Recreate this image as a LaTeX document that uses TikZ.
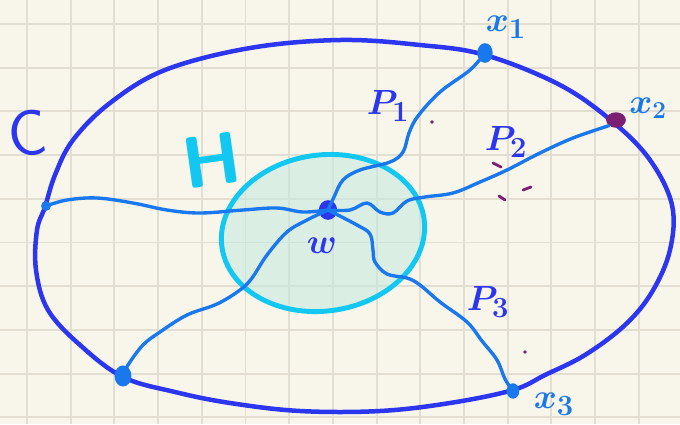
\documentclass[tikz,border=0pt]{standalone}
\usepackage{bm}
\usepackage{tikz}
\usetikzlibrary{shapes.geometric}
\definecolor{paper}{HTML}{F8F6EA}
\definecolor{gridline}{HTML}{E2DFD2}
\definecolor{cblue}{HTML}{2B36EE}
\definecolor{pblue}{HTML}{1A78EE}
\definecolor{hcyan}{HTML}{12C8F2}
\definecolor{hfill}{HTML}{C4E9DF}
\definecolor{markc}{HTML}{7A1F72}

\begin{document}
\begin{tikzpicture}[x=0.025cm, y=-0.025cm,
  curveC/.style={cblue, line width=3.2pt, line cap=round},
  pathP/.style={pblue, line width=2.4pt, line cap=round, line join=round},
  dot/.style={draw=none, fill=pblue, ellipse, inner sep=0pt},
  lab/.style={inner sep=0pt}]

% 背景
\useasboundingbox (0,0) rectangle (680,424);
\fill[paper] (0,0) rectangle (680,424);
\foreach \i in {0,...,14} \draw[gridline, line width=1.3pt] (27+43.7*\i,0) -- (27+43.7*\i,424);
\foreach \j in {0,...,9} \draw[gridline, line width=1.3pt] (0,24+43.7*\j) -- (680,24+43.7*\j);

% 集合 H
\node[draw=hcyan, fill=hfill, fill opacity=0.55, draw opacity=1, line width=3.5pt,
  ellipse, minimum width=5.1cm, minimum height=3.9cm, rotate=8] (Hset) at (323,233) {};

% 曲线 C
\draw[curveC] plot[smooth cycle, tension=0.6] coordinates {(340,40) (420,45) (485,55)
  (560,85) (613,122) (650,160) (672,205) (670,250) (652,292) (625,325) (585,355)
  (545,375) (513,390) (450,403) (380,411) (300,411) (230,403) (175,392) (123,377)
  (80,345) (48,310) (36,270) (37,230) (45,207) (55,175) (73,140) (110,103) (165,70) (250,48)};

% 定义节点
\node[dot, fill=cblue, minimum width=13pt, minimum height=14pt] (w) at (328,210) {};
\node[dot, minimum width=11pt, minimum height=14pt] (x1) at (485,53) {};
\node[dot, fill=markc, minimum width=14pt, minimum height=11pt] (x2) at (616,120) {};
\node[dot, minimum width=9pt, minimum height=11pt] (x3) at (513,391) {};
\node[dot, minimum width=7pt, minimum height=7pt] (u1) at (46,206) {};
\node[dot, minimum width=12pt, minimum height=15pt] (u2) at (123,376) {};

% 连接节点
\draw[pathP] plot[smooth, tension=0.6] coordinates {(w) (334,197) (343,180) (360,170)
  (390,162) (403,152) (409,133) (418,116) (440,92) (470,70) (x1)};
\draw[pathP] plot[smooth, tension=0.6] coordinates {(w) (350,210) (367,203) (380,212)
  (393,213) (407,201) (425,197) (453,193) (480,182) (507,170) (540,153) (573,138) (x2.south west)};
\draw[pathP] plot[smooth, tension=0.6] coordinates {(w) (357,225) (370,234) (373,250)
  (375,262) (387,274) (407,278) (420,285) (440,302) (467,322) (482,341) (497,360) (505,379) (x3)};
\draw[pathP] plot[smooth, tension=0.6] coordinates {(w) (303,212) (277,208) (243,210)
  (200,213) (167,210) (133,203) (97,198) (67,200) (u1)};
\draw[pathP] plot[smooth, tension=0.6] coordinates {(w) (307,220) (287,232) (267,255)
  (252,278) (240,290) (217,304) (187,315) (160,332) (143,345) (128,365) (u2)};

% 标签
\node[lab, cblue, rotate=6] (labC) at (28,133) {\fontsize{46}{46}\selectfont\sffamily C};
\node[lab, hcyan, rotate=8] (labH) at (212,160) {\fontsize{52}{52}\selectfont\sffamily\bfseries H};
\node[lab, cblue] (labw) at (322,246) {\fontsize{32}{32}\selectfont$\bm{w}$};
\node[lab, pblue] (labx1) at (506,27) {\fontsize{30}{30}\selectfont$\bm{x_1}$};
\node[lab, pblue] (labx2) at (648,108) {\fontsize{24}{24}\selectfont$\bm{x_2}$};
\node[lab, pblue] (labx3) at (554,404) {\fontsize{30}{30}\selectfont$\bm{x_3}$};
\node[lab, cblue] (labP1) at (388,106) {\fontsize{28}{28}\selectfont$\bm{P_1}$};
\node[lab, cblue] (labP2) at (506,142) {\fontsize{32}{32}\selectfont$\bm{P_2}$};
\node[lab, cblue] (labP3) at (488,302) {\fontsize{32}{32}\selectfont$\bm{P_3}$};

% 小记号
\fill[markc] (432,122) circle (1.3pt);
\fill[markc] (525,352) circle (1.3pt);
\draw[markc, line width=2pt, line cap=round] (493,163) -- (501,167);
\draw[markc, line width=2pt, line cap=round] (523,190) -- (531,187);
\draw[markc, line width=2pt, line cap=round] (499,196) -- (505,200);

\end{tikzpicture}
\end{document}
